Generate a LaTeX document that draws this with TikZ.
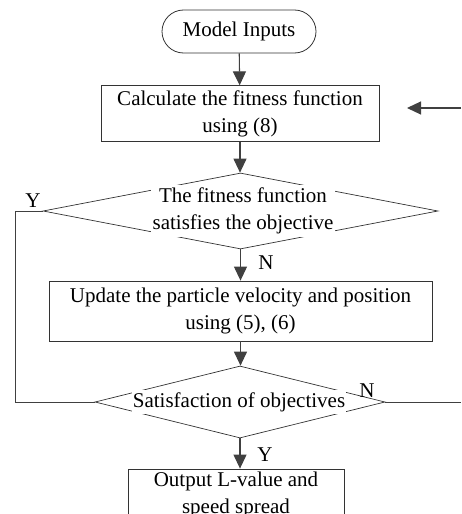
\documentclass[tikz,border=0pt]{standalone}
\usepackage{fontspec}
\setmainfont{Liberation Serif}
\usetikzlibrary{shapes.geometric,shapes.misc,arrows.meta}
\begin{document}
\begin{tikzpicture}[x=1pt,y=-1pt,
  every node/.style={font=\fontsize{21}{27}\selectfont, text=black},
  ln/.style={draw=black!75, line width=0.9pt},
  arr/.style={draw=black!75, line width=1.1pt, -{Triangle[length=14pt,width=13pt]}},
  box/.style={draw=black!80, line width=0.8pt, rectangle, inner sep=0pt, align=center},
  term/.style={draw=black!80, line width=0.8pt, rounded rectangle, inner sep=0pt},
  dia/.style={draw=black!80, line width=0.7pt, diamond, inner sep=0pt},
  dtext/.style={fill=white, align=center, inner xsep=2pt, inner ysep=3pt},
  lbl/.style={inner sep=0pt}
]
\useasboundingbox (0,0) rectangle (461,514);
\clip (0,0) rectangle (461,514);

\node[term, minimum width=154pt, minimum height=43pt] (start) at (239,31.5) {Model Inputs};
\node[box, minimum width=278pt, minimum height=55.5pt] (calc) at (240,113.5) {Calculate the fitness function\\using (8)};
\node[dia, minimum width=395pt, minimum height=76pt] (dec1) at (240.5,211) {};
\node[dtext] (dec1t) at (243,211) {The fitness function\\satisfies the objective};
\node[box, minimum width=383pt, minimum height=60pt] (upd) at (240.5,311) {Update the particle velocity and position\\using (5), (6)};
\node[dia, minimum width=290pt, minimum height=72pt] (dec2) at (240,402) {};
\node[dtext, inner xsep=1pt, inner ysep=2pt] (dec2t) at (239,402) {Satisfaction of objectives};
\node[box, minimum width=216pt, minimum height=51pt] (out) at (236,494.5) {Output L-value and\\speed spread};

\node[lbl] (n1) at (266,263) {N};
\node[lbl] (y2) at (265,455) {Y};
\node[lbl] (y1) at (33,201) {Y};
\node[lbl] (n2) at (367,391) {N};

\coordinate (yl) at (15,211);
\coordinate (nr) at (461,402);
\coordinate (inR) at (461,108);
\coordinate (inT) at (407,108);

\draw[arr] (start) -- (calc);
\draw[arr] (calc.south) -- (calc.south |- dec1.north);
\draw[arr] (dec1.south) -- (dec1.south |- upd.north);
\draw[arr] (upd.south) -- (upd.south |- dec2.north);
\draw[arr] (dec2.south) -- (dec2.south |- out.north);
\draw[ln] (dec1.west) -- (yl) |- (dec2.west);
\draw[ln] (dec2.east) -- (nr);
\draw[arr] (inR) -- (inT);
\end{tikzpicture}
\end{document}
